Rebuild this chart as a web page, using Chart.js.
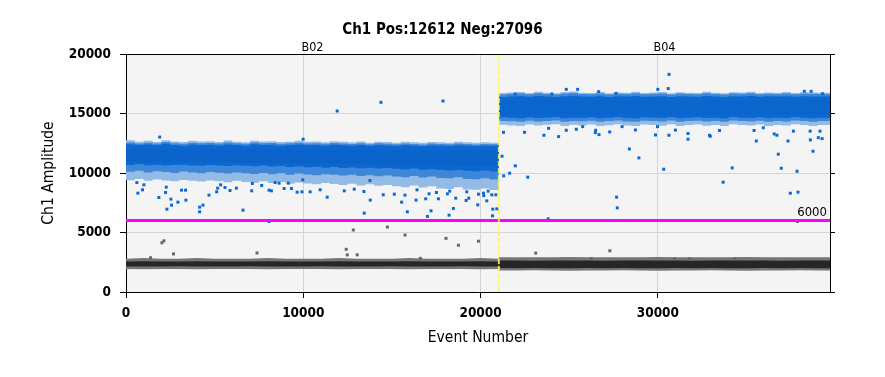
<!DOCTYPE html>
<html><head><meta charset="utf-8">
<script src="https://cdn.jsdelivr.net/npm/chart.js@4.4.1/dist/chart.umd.min.js"></script>
<style>html,body{margin:0;padding:0;background:#fff;}#wrap{width:885px;height:377px;}</style>
</head><body><div id="wrap"><canvas id="c" width="885" height="377"></canvas></div>
<script>
// ---------- text ----------
const chartTitle = 'Ch1 Pos:12612 Neg:27096';
const xAxisTitle = 'Event Number';
const yAxisTitle = 'Ch1 Amplitude';
const wells = ['B02', 'B04'];
const wellBounds = [0, 21030, 39708];
const xTicks = [0, 10000, 20000, 30000];
const yTicks = [0, 5000, 10000, 15000, 20000];
const threshold = 6000;

// ---------- B02 positive droplet cloud: amplitude envelopes per 500-event bin ----------
const b02Events = [0,500,1000,1500,2000,2500,3000,3500,4000,4500,5000,5500,6000,6500,7000,7500,8000,8500,9000,9500,10000,10500,11000,11500,12000,12500,13000,13500,14000,14500,15000,15500,16000,16500,17000,17500,18000,18500,19000,19500,20000,20500,21000,21030];
const b02PosHalo2Hi = [12670,12750,12630,12700,12610,12750,12650,12600,12700,12650,12670,12610,12730,12630,12590,12710,12650,12670,12600,12630,12700,12620,12650,12590,12670,12620,12580,12650,12550,12630,12600,12550,12620,12580,12540,12610,12580,12550,12620,12580,12540,12580,12550,12550];
const b02PosHalo1Hi = [12520,12570,12470,12540,12480,12600,12500,12460,12540,12500,12520,12470,12560,12490,12450,12570,12500,12520,12460,12490,12540,12480,12500,12450,12520,12480,12440,12500,12420,12490,12460,12420,12480,12440,12400,12470,12440,12420,12480,12440,12400,12440,12420,12420];
const b02PosCoreHi  = [12380,12420,12350,12400,12330,12450,12360,12300,12400,12350,12380,12320,12400,12360,12300,12420,12350,12380,12300,12350,12400,12330,12360,12300,12380,12340,12300,12360,12280,12350,12320,12280,12350,12300,12260,12330,12300,12280,12340,12300,12260,12300,12280,12280];
const b02PosCoreLo  = [10720,10680,10750,10650,10700,10620,10680,10700,10640,10600,10680,10620,10580,10650,10600,10560,10620,10540,10580,10500,10560,10480,10520,10450,10500,10420,10460,10400,10440,10380,10420,10350,10300,10380,10280,10320,10250,10200,10260,10180,10150,10200,10120,10120];
const b02PosHalo1Lo = [10200,10100,10180,10050,10150,10080,10000,10120,10050,9980,10080,10020,9950,10050,9980,9920,10000,9900,9980,9850,9950,9880,9820,9900,9850,9780,9850,9750,9820,9720,9800,9700,9650,9750,9620,9700,9580,9550,9650,9500,9480,9550,9450,9450];
const b02PosHalo2Lo = [9550,9400,9500,9350,9450,9380,9300,9420,9350,9280,9380,9300,9220,9350,9250,9180,9300,9150,9250,9100,9200,9120,9050,9150,9080,9000,9100,8950,9050,8920,9000,8880,8800,8950,8780,8880,8700,8650,8800,8620,8600,8700,8580,8580];

// ---------- B02 dense middle and negative cloud, per 1000-event bin ----------
const b02BinEvents = [0,1000,2000,3000,4000,5000,6000,7000,8000,9000,10000,11000,12000,13000,14000,15000,16000,17000,18000,19000,20000,21030];
const b02PosDeepHi = [12000,12050,11950,12000,11950,12000,11950,11950,11950,12000,11950,11950,11950,11950,11900,11900,11950,11900,11900,11950,11900,11900];
const b02PosDeepLo = [10950,10900,10950,10900,10950,10900,10900,10850,10850,10850,10800,10800,10750,10750,10750,10700,10700,10650,10650,10600,10600,10600];
const b02NegHaloHi = [2800,2850,2800,2800,2850,2800,2800,2800,2850,2800,2800,2800,2850,2800,2800,2800,2850,2800,2800,2800,2850,2800];
const b02NegCoreHi = [2570,2580,2560,2570,2580,2570,2560,2570,2580,2570,2560,2570,2580,2570,2560,2570,2580,2570,2560,2570,2580,2570];
const b02NegCoreLo = [2150,2140,2150,2160,2150,2140,2150,2160,2150,2140,2150,2160,2150,2140,2150,2160,2150,2140,2150,2160,2150,2150];
const b02NegHaloLo = [1930,1920,1940,1930,1920,1930,1940,1930,1920,1930,1940,1930,1920,1930,1940,1930,1920,1930,1940,1930,1920,1930];

// ---------- B04 positive droplet cloud, per 500-event bin ----------
const b04Events = [21030,21500,22000,22500,23000,23500,24000,24500,25000,25500,26000,26500,27000,27500,28000,28500,29000,29500,30000,30500,31000,31500,32000,32500,33000,33500,34000,34500,35000,35500,36000,36500,37000,37500,38000,38500,39000,39500,39708];
const b04PosHalo2Hi = [16600,16720,16760,16800,16730,16820,16750,16700,16800,16840,16750,16730,16800,16700,16770,16750,16820,16730,16760,16800,16700,16790,16750,16730,16820,16750,16700,16790,16760,16820,16730,16770,16750,16800,16730,16790,16760,16750,16750];
const b04PosHalo1Hi = [16500,16600,16650,16680,16620,16700,16640,16600,16680,16720,16640,16620,16690,16600,16660,16640,16700,16620,16650,16690,16600,16680,16640,16620,16700,16640,16600,16680,16650,16700,16620,16660,16640,16690,16620,16680,16650,16640,16640];
const b04PosCoreHi  = [16300,16380,16420,16450,16400,16480,16420,16380,16450,16500,16420,16400,16460,16380,16440,16420,16480,16400,16430,16460,16380,16450,16420,16400,16470,16420,16380,16450,16430,16480,16400,16440,16420,16460,16400,16450,16430,16420,16420];
const b04PosCoreLo  = [14750,14680,14650,14600,14680,14620,14650,14700,14600,14650,14620,14680,14600,14650,14700,14620,14600,14680,14650,14620,14700,14600,14650,14680,14620,14650,14600,14700,14650,14620,14680,14600,14650,14620,14700,14650,14600,14650,14650];
const b04PosHalo1Lo = [14450,14380,14350,14300,14400,14320,14380,14420,14300,14380,14340,14400,14300,14360,14420,14330,14300,14400,14360,14320,14420,14300,14370,14400,14320,14360,14300,14420,14360,14330,14400,14300,14360,14330,14420,14360,14300,14360,14360];
const b04PosHalo2Lo = [14150,14050,14000,13950,14080,14000,14050,14100,13950,14050,14000,14080,13950,14020,14100,14000,13950,14070,14030,13980,14100,13950,14040,14080,13980,14030,13950,14100,14030,14000,14080,13950,14030,14000,14100,14040,13950,14030,14030];

// ---------- B04 dense middle and negative cloud, per 1000-event bin ----------
const b04BinEvents = [21030,22000,23000,24000,25000,26000,27000,28000,29000,30000,31000,32000,33000,34000,35000,36000,37000,38000,39000,39708];
const b04PosDeepHi = [15950,16050,16050,16100,16050,16050,16050,16100,16050,16050,16050,16050,16050,16050,16050,16100,16050,16100,16100,16050];
const b04PosDeepLo = [15000,14950,14950,14950,14950,15000,14950,14950,15000,14950,14950,15000,14950,14950,15000,14950,14950,14950,14950,15000];
const b04NegHaloHi = [2920,2930,2910,2920,2940,2920,2910,2930,2920,2940,2920,2910,2930,2920,2940,2920,2910,2930,2920,2920];
const b04NegCoreHi = [2640,2650,2630,2640,2650,2640,2630,2650,2640,2650,2640,2630,2650,2640,2650,2640,2630,2650,2640,2640];
const b04NegCoreLo = [2010,2000,2010,2000,1990,2010,2000,2010,2000,1990,2010,2000,2010,2000,1990,2010,2000,2010,2000,2000];
const b04NegHaloLo = [1810,1800,1820,1810,1790,1810,1800,1820,1810,1790,1810,1800,1820,1810,1790,1810,1800,1820,1810,1810];

// ---------- scattered single droplets ----------
const posOutlierEvents = [1900,9990,11910,14380,17880,612,668,933,1008,1855,2232,2270,2533,2929,2571,2307,3380,3136,3362,4153,4341,4153,4680,5113,5584,5339,5866,6225,6600,7090,7128,7655,8070,8200,8410,8635,8918,9332,9652,9972,10387,9925,9162,5170,8070,
10950,11347,12310,13437,13776,12872,13418,14510,15132,15547,15867,15735,16360,16413,16903,17000,17092,17205,17620,17507,18129,18222,18467,18599,19183,19334,19840,19880,20163,20350,20427,20634,20860,20690,20917,20672,18260,19221,13758,20180,
21291,22478,23571,23835,24400,24833,25398,25756,26490,26679,27282,26471,27980,28734,29865,29978,
24833,25473,27640,29996,24024,21950,26660,30583,38260,38645,39290,30630,
30622,30990,31701,31700,32956,33476,35426,35946,36716,37643,38587,39146,39262,
28390,28930,27670,27710,30330,33680,34190,35550,36790,36960,37340,37470,37900,37850,38600,38750,39050,36560,32910,21960,21640,22660,21300,21210,23810];
const posOutlierAmps = [13020,12840,15210,15940,16050,9196,8306,8586,9006,7943,8363,8810,7803,7551,7300,6960,7720,8558,8558,6737,7300,7130,8140,8418,8782,9006,8530,8726,6877,8502,9118,8950,8558,8502,9202,9146,8698,8698,8390,9426,8418,8418,9146,8726,5924,
8590,7967,8500,6626,7720,8642,8446,8166,8222,7551,6737,8138,7720,8586,7831,6350,8250,6821,7831,8362,8250,6458,7018,7887,7691,7887,7325,8222,8306,7660,8474,8166,8166,6962,6990,6402,8474,8418,9370,8100,
13420,13420,13170,13757,13058,13590,13673,13897,13590,13226,13450,13394,13897,13617,13198,13897,
17029,17029,16694,17029,16638,16638,16834,17096,16867,16867,16666,18290,
13173,13603,13316,12840,13087,13574,13574,13803,13173,13517,13517,13517,12887,
12020,11270,7970,7070,10320,9230,10430,12690,11580,10400,12690,8300,8390,10150,12780,11830,12970,13280,13170,10600,9980,9650,9760,11410,6150];
const negOutlierEvents = [1384,2025,2137,2680,7390,12420,12480,12820,13040,14740,15740,16600,18050,18750,19880,23110,27290,26250,30940,31790,34320,37880];
const negOutlierAmps   = [2880,4136,4300,3200,3280,3590,3120,5210,3120,5460,4790,2830,4510,3930,4270,3270,3465,2800,2780,2780,2780,5925];

// ---------- helpers ----------
const BLUE = '#0b68d2';
const pts = (xs, ys) => xs.map((x, i) => ({x: x, y: ys[i]}));
function band(xs, hi, lo, color, order, stepped) {
  return [
    {type: 'line', data: pts(xs, hi), fill: '+1', backgroundColor: color, borderColor: color, borderWidth: 0, pointRadius: 0, order: order, stepped: stepped},
    {type: 'line', data: pts(xs, lo), fill: false, borderWidth: 0, pointRadius: 0, order: order, stepped: stepped}
  ];
}

const datasets = [].concat(
  band(b02Events, b02PosHalo2Hi, b02PosHalo2Lo, '#94bbe6', 20, 'after'),
  band(b02Events, b02PosHalo1Hi, b02PosHalo1Lo, '#3d86d8', 19, 'after'),
  band(b02Events, b02PosCoreHi, b02PosCoreLo, BLUE, 18, 'after'),
  band(b02BinEvents, b02PosDeepHi, b02PosDeepLo, '#0a63c9', 17, false),
  band(b04Events, b04PosHalo2Hi, b04PosHalo2Lo, '#94bbe6', 20, 'after'),
  band(b04Events, b04PosHalo1Hi, b04PosHalo1Lo, '#3d86d8', 19, 'after'),
  band(b04Events, b04PosCoreHi, b04PosCoreLo, BLUE, 18, 'after'),
  band(b04BinEvents, b04PosDeepHi, b04PosDeepLo, '#0a65cc', 17, false),
  band(b02BinEvents, b02NegHaloHi, b02NegHaloLo, '#767676', 20, false),
  band(b02BinEvents, b02NegCoreHi, b02NegCoreLo, '#262626', 19, false),
  band(b04BinEvents, b04NegHaloHi, b04NegHaloLo, '#767676', 20, false),
  band(b04BinEvents, b04NegCoreHi, b04NegCoreLo, '#262626', 19, false),
  [
    {type: 'scatter', data: pts(posOutlierEvents, posOutlierAmps), pointStyle: 'rect', pointRadius: 2.1, backgroundColor: BLUE, borderWidth: 0, order: 5},
    {type: 'scatter', data: pts(negOutlierEvents, negOutlierAmps), pointStyle: 'rect', pointRadius: 2.1, backgroundColor: '#666666', borderWidth: 0, order: 5},
    {type: 'line', data: [{x: wellBounds[0], y: threshold}, {x: wellBounds[2], y: threshold}], borderColor: '#ff00ff', borderWidth: 3, pointRadius: 0, fill: false, order: 2},
    {type: 'line', data: [{x: wellBounds[1], y: yTicks[0]}, {x: wellBounds[1], y: yTicks[yTicks.length - 1]}], borderColor: 'rgba(250,250,80,0.85)', borderWidth: 2, borderDash: [5, 2], pointRadius: 0, fill: false, order: 1}
  ]
);

const FONT = "'DejaVu Sans Condensed', 'DejaVu Sans', sans-serif";

const decorPlugin = {
  id: 'decor',
  beforeDraw(chart) {
    const {ctx, chartArea: a} = chart;
    ctx.save();
    ctx.fillStyle = '#f4f4f4';
    ctx.fillRect(a.left, a.top, a.right - a.left, a.bottom - a.top);
    ctx.restore();
  },
  afterDatasetsDraw(chart) {
    const {ctx, chartArea: a, scales} = chart;
    ctx.save();
    // threshold value label
    const y = scales.y.getPixelForValue(threshold);
    ctx.font = '13px ' + FONT;
    ctx.fillStyle = '#000';
    ctx.textAlign = 'right';
    ctx.textBaseline = 'bottom';
    ctx.fillText(String(threshold), a.right - 3, y - 1.5);
    // well names centred over each well's event range
    ctx.font = '12.5px ' + FONT;
    ctx.textAlign = 'center';
    ctx.textBaseline = 'middle';
    wells.forEach((w, i) => {
      const cx = scales.x.getPixelForValue((wellBounds[i] + wellBounds[i + 1]) / 2);
      ctx.fillText(w, cx, a.top - 6.5);
    });
    ctx.restore();
  }
};

new Chart(document.getElementById('c'), {
  type: 'scatter',
  data: {datasets: datasets},
  plugins: [decorPlugin],
  options: {
    responsive: false,
    animation: false,
    events: [],
    layout: {padding: 0},
    plugins: {
      legend: {display: false},
      tooltip: {enabled: false},
      title: {display: true, text: chartTitle, color: '#000', font: {family: FONT, size: 15, weight: 'bold'}, padding: {top: 21, bottom: 0}}
    },
    scales: {
      x: {
        type: 'linear', position: 'bottom', min: wellBounds[0], max: wellBounds[2],
        afterBuildTicks: s => { s.ticks = xTicks.map(v => ({value: v})); },
        afterFit: s => { s.height = 85; },
        ticks: {color: '#000', font: {family: FONT, size: 13.5, weight: 'bold'}, padding: 7, maxRotation: 0, autoSkip: false, callback: v => String(v)},
        grid: {color: '#d4d4d4', tickColor: '#000', tickLength: 6},
        border: {color: '#000', width: 1},
        title: {display: true, text: xAxisTitle, color: '#000', font: {family: FONT, size: 15.5}, padding: {top: 0, bottom: 30}}
      },
      x2: {
        type: 'linear', position: 'top', min: wellBounds[0], max: wellBounds[2],
        afterFit: s => { s.height = 15; },
        ticks: {display: false},
        grid: {display: false},
        border: {display: true, color: '#000', width: 1}
      },
      y: {
        type: 'linear', position: 'left', min: yTicks[0], max: yTicks[yTicks.length - 1],
        afterBuildTicks: s => { s.ticks = yTicks.map(v => ({value: v})); },
        afterFit: s => { s.width = 126; },
        ticks: {color: '#000', font: {family: FONT, size: 13.5, weight: 'bold'}, padding: 9, callback: v => String(v)},
        grid: {color: '#d4d4d4', tickColor: '#000', tickLength: 6},
        border: {color: '#000', width: 1},
        title: {display: true, text: yAxisTitle, color: '#000', font: {family: FONT, size: 15.5}, padding: {top: 40, bottom: 0}}
      },
      y2: {
        type: 'linear', position: 'right', min: yTicks[0], max: yTicks[yTicks.length - 1],
        afterBuildTicks: s => { s.ticks = yTicks.map(v => ({value: v})); },
        afterFit: s => { s.width = 55; },
        ticks: {display: false},
        grid: {drawOnChartArea: false, tickColor: '#000', tickLength: 5},
        border: {color: '#000', width: 1}
      }
    }
  }
});
</script>
</body></html>
